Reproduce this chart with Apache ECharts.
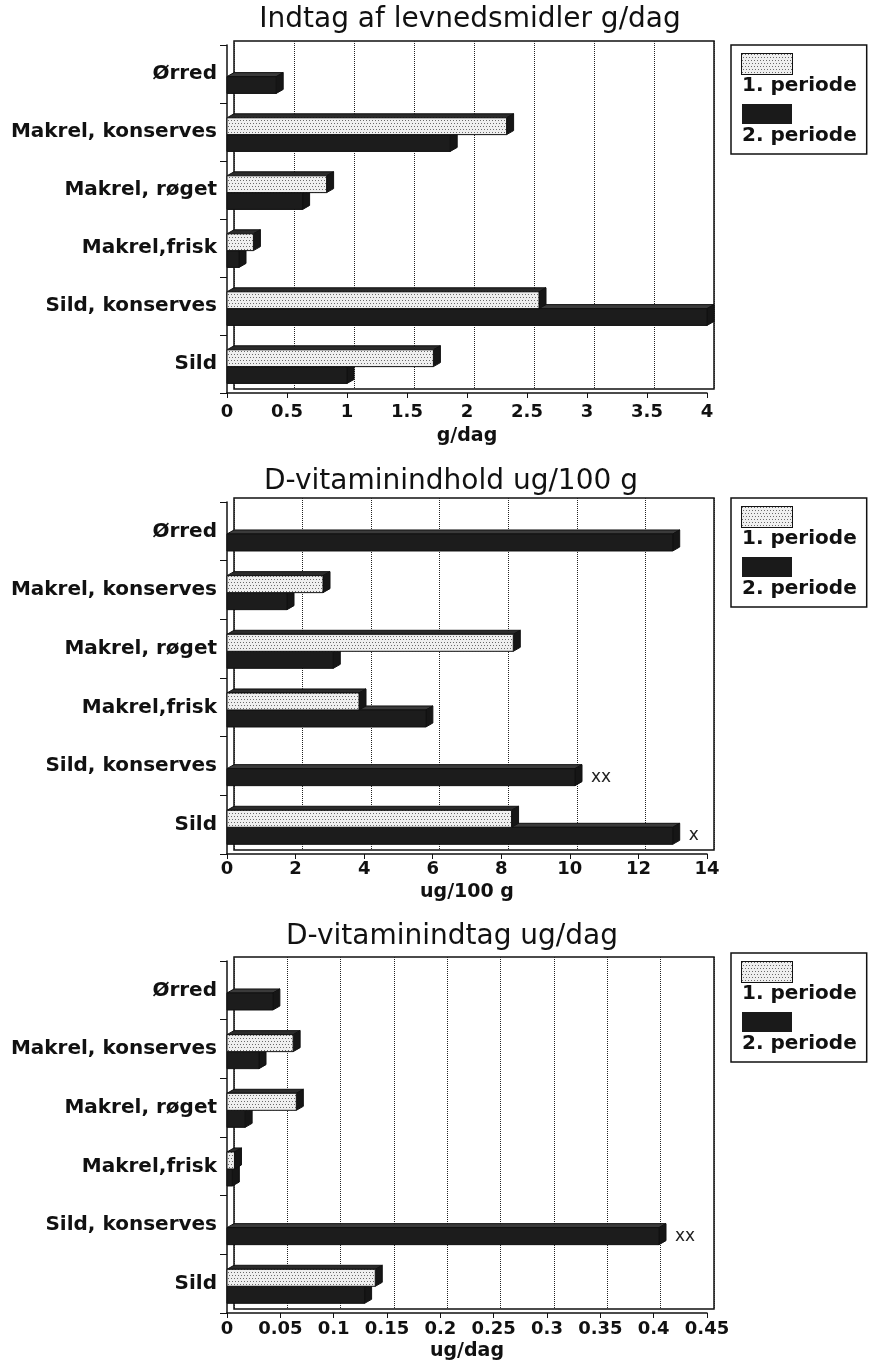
<!DOCTYPE html>
<html><head><meta charset="utf-8">
<script src="https://cdn.jsdelivr.net/npm/echarts@6/dist/echarts.min.js"></script>
<style>html,body{margin:0;padding:0;background:#fff}#c{width:872px;height:1362px}</style>
</head><body><div id="c"></div>
<script>
// ---------- data ----------
const categories = ['Ørred', 'Makrel, konserves', 'Makrel, røget', 'Makrel,frisk', 'Sild, konserves', 'Sild'];
const seriesNames = ['1. periode', '2. periode'];
const titles = ['Indtag af levnedsmidler g/dag', 'D-vitaminindhold ug/100 g', 'D-vitaminindtag ug/dag'];
const axisNames = ['g/dag', 'ug/100 g', 'ug/dag'];
// chart 1: intake g/day
const intake1 = [0, 2.33, 0.83, 0.22, 2.6, 1.72];
const intake2 = [0.41, 1.86, 0.63, 0.1, 4.0, 1.0];
// chart 2: vitamin D content ug/100 g
const content1 = [0, 2.8, 8.35, 3.85, 0, 8.3];
const content2 = [13.0, 1.75, 3.1, 5.8, 10.15, 13.0];
// chart 3: vitamin D intake ug/day
const vitD1 = [0, 0.062, 0.065, 0.007, 0, 0.139];
const vitD2 = [0.043, 0.03, 0.017, 0.005, 0.405, 0.129];
// footnote marks placed after 2nd-period bars
const noNotes = ['', '', '', '', '', ''];
const contentNotes2 = ['', '', '', '', 'xx', 'x'];
const vitDNotes2 = ['', '', '', '', 'xx', ''];
// axis ranges
const axisMax = [4, 14, 0.45];
const axisInterval = [0.5, 2, 0.05];

// ---------- layout / style ----------
const FONT = 'DejaVu Sans';
const X0 = 227, X1 = 707, W = 872;
const DX = 7, DY = -4;
const tops = [45, 502, 961], bottoms = [393, 854, 1313];
const titleY = [20, 482, 937], titleX = [470, 451, 452];
const legendTop = [45, 498, 953];
const nameGaps = [34, 29, 29];
const labelMargins = [10, 6, 7];

function makePattern(w, h) {
  const c = document.createElement('canvas');
  c.width = w; c.height = h;
  const g = c.getContext('2d');
  g.fillStyle = '#efefef'; g.fillRect(0, 0, w, h);
  g.fillStyle = '#6a6a6a';
  for (let y = 0; y < h; y += 3) {
    for (let x = ((y / 3) % 2) ? 1 : 0; x < w; x += 3) g.fillRect(x, y, 1, 1);
  }
  return c;
}
const tile = makePattern(6, 6);
const swatch = makePattern(50, 20);

function barRenderer(slot, notes, light) {
  return function (params, api) {
    const v = api.value(0), ci = api.value(1);
    const p0 = api.coord([0, ci]), p1 = api.coord([v, ci]);
    const band = api.size([0, 1])[1];
    const h = band * 0.29;
    const y = p0[1] + (slot === 0 ? -0.245 * band : 0.045 * band);
    const x0 = p0[0], x1 = p1[0];
    const ch = [];
    if (v > 0) {
      ch.push({ type: 'polygon', shape: { points: [[x0, y], [x1, y], [x1 + DX, y + DY], [x0 + DX, y + DY]] },
        style: { fill: light ? '#2b2b2b' : '#3a3a3a', stroke: '#111', lineWidth: 1 } });
      ch.push({ type: 'polygon', shape: { points: [[x1, y], [x1 + DX, y + DY], [x1 + DX, y + h + DY], [x1, y + h]] },
        style: { fill: '#161616', stroke: '#111', lineWidth: 1 } });
      ch.push({ type: 'rect', shape: { x: x0, y: y, width: x1 - x0, height: h },
        style: { fill: light ? { image: tile, repeat: 'repeat' } : '#1c1c1c', stroke: '#111', lineWidth: 1 } });
    }
    const note = notes[params.dataIndex];
    if (note) {
      ch.push({ type: 'text', style: { text: note, x: x1 + DX + 9, y: y + h / 2, align: 'left', verticalAlign: 'middle',
        font: '17px "DejaVu Sans"', fill: '#222' } });
    }
    return { type: 'group', children: ch };
  };
}

const charts = [
  { p1: intake1, p2: intake2, n2: noNotes },
  { p1: content1, p2: content2, n2: contentNotes2 },
  { p1: vitD1, p2: vitD2, n2: vitDNotes2 }
];

const option = {
  backgroundColor: '#fff',
  animation: false,
  title: [], legend: [], grid: [], xAxis: [], yAxis: [], series: []
};

charts.forEach((c, k) => {
  const T = tops[k], B = bottoms[k];
  option.title.push({
    text: titles[k], left: titleX[k], top: titleY[k], textAlign: 'center', textVerticalAlign: 'middle', padding: 0,
    textStyle: { fontFamily: FONT, fontSize: 28, fontWeight: 'normal', color: '#111' }
  });
  option.legend.push({
    data: seriesNames, orient: 'vertical', left: 731, top: legendTop[k],
    padding: [8, 10, 8, 5], itemGap: 8, itemWidth: 1, itemHeight: 1,
    itemStyle: { opacity: 0 }, selectedMode: false,
    borderColor: '#111', borderWidth: 1.5, backgroundColor: '#fff',
    formatter: name => name === seriesNames[0] ? '{s1|}\n{t|' + name + '}' : '{s2|}\n{t|' + name + '}',
    textStyle: {
      fontFamily: FONT, fontSize: 20, fontWeight: 'bold', color: '#111',
      rich: {
        s1: { width: 50, height: 20, backgroundColor: { image: swatch }, borderColor: '#111', borderWidth: 2 },
        s2: { width: 50, height: 20, backgroundColor: '#1a1a1a' },
        t: { fontFamily: FONT, fontSize: 20, fontWeight: 'bold', color: '#111', lineHeight: 24 }
      }
    }
  });
  // front grid (axes + bars)
  option.grid.push({ left: X0, right: W - X1, top: T, height: B - T, outerBoundsMode: 'none', containLabel: false, z: 3 });
  // back wall grid (frame + dotted grid lines)
  option.grid.push({ left: X0 + DX, right: W - X1 - DX, top: T + DY, height: B - T, outerBoundsMode: 'none', containLabel: false,
    show: true, borderColor: '#111', borderWidth: 1.5, backgroundColor: '#fff', z: 0 });
  option.xAxis.push({
    gridIndex: 2 * k, type: 'value', min: 0, max: axisMax[k], interval: axisInterval[k],
    axisLine: { show: true, onZero: false, lineStyle: { color: '#111', width: 1.5 } },
    axisTick: { show: true, length: 5, lineStyle: { color: '#111' } },
    axisLabel: { fontFamily: FONT, fontSize: 18, fontWeight: 'bold', color: '#111', margin: labelMargins[k] },
    splitLine: { show: false },
    name: axisNames[k], nameLocation: 'middle', nameGap: nameGaps[k],
    nameTextStyle: { fontFamily: FONT, fontSize: 19, fontWeight: 'bold', color: '#111' }
  });
  option.xAxis.push({
    gridIndex: 2 * k + 1, type: 'value', min: 0, max: axisMax[k], interval: axisInterval[k],
    axisLine: { show: false }, axisTick: { show: false }, axisLabel: { show: false },
    splitLine: { show: true, lineStyle: { type: 'dotted', color: '#222', width: 1 } }
  });
  option.yAxis.push({
    gridIndex: 2 * k, type: 'category', data: categories, inverse: true,
    axisLine: { show: true, onZero: false, lineStyle: { color: '#111', width: 1.5 } },
    axisTick: { show: true, length: 7, lineStyle: { color: '#111' } },
    axisLabel: { fontFamily: FONT, fontSize: 20, fontWeight: 'bold', color: '#111', margin: 10 },
    splitLine: { show: false }
  });
  option.yAxis.push({
    gridIndex: 2 * k + 1, type: 'category', data: categories, inverse: true, show: false
  });
  option.series.push({
    type: 'custom', name: seriesNames[1], xAxisIndex: 2 * k, yAxisIndex: 2 * k, clip: false, z: 5,
    encode: { x: 0, y: 1 }, renderItem: barRenderer(1, c.n2, false),
    data: c.p2.map((v, i) => [v, i])
  });
  option.series.push({
    type: 'custom', name: seriesNames[0], xAxisIndex: 2 * k, yAxisIndex: 2 * k, clip: false, z: 5,
    encode: { x: 0, y: 1 }, renderItem: barRenderer(0, noNotes, true),
    data: c.p1.map((v, i) => [v, i])
  });
});

const chart = echarts.init(document.getElementById('c'), null, { renderer: 'canvas', width: 872, height: 1362 });
chart.setOption(option);
</script>
</body></html>
